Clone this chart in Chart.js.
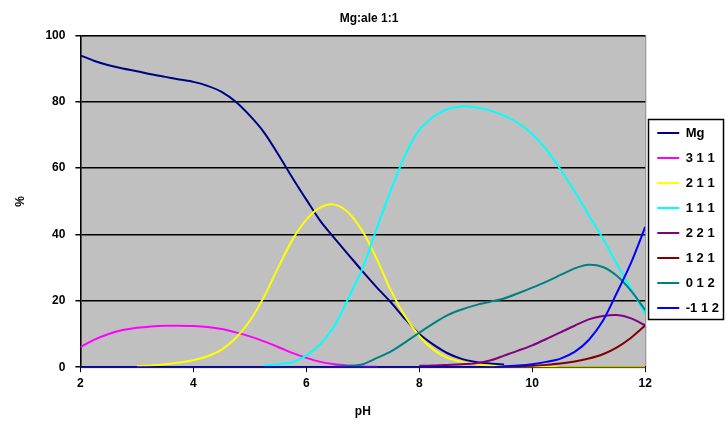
<!DOCTYPE html>
<html>
<head>
<meta charset="utf-8">
<script src="https://cdn.jsdelivr.net/npm/chart.js"></script>
<style>
  body { margin: 0; background: #fff; }
  #wrap { width: 727px; height: 435px; }
</style>
</head>
<body>
<div id="wrap"><canvas id="c" width="727" height="435"></canvas></div>
<script>
const pH = [2, 2.25, 2.5, 2.75, 3, 3.25, 3.5, 3.75, 4, 4.25, 4.5, 4.75, 5, 5.25, 5.5, 5.75, 6, 6.25, 6.5, 6.75,
  7, 7.25, 7.5, 7.75, 8, 8.25, 8.5, 8.75, 9, 9.25, 9.5, 9.75, 10, 10.25, 10.5, 10.75, 11, 11.25, 11.5, 11.75, 12];

const seriesNames = ['Mg', '3 1 1', '2 1 1', '1 1 1', '2 2 1', '1 2 1', '0 1 2', '-1 1 2'];
const seriesColors = ['#000080', '#ff00ff', '#ffff00', '#00ffff', '#800080', '#800000', '#008080', '#0000ff'];

const mg = [94, 92.3, 91, 90, 89.2, 88.3, 87.5, 86.7, 86, 84.8, 83, 80, 75.8, 70.8, 64.2, 57.2, 50.5, 44, 38.8, 33.8,
  28.8, 24, 19.5, 14.5, 10, 6.8, 4.2, 2.5, 1.6, 1.1, 0.8, null, null, null, null, null, null, null, null, null, null];
const s311 = [6.1, 8.3, 10, 11.2, 11.9, 12.3, 12.5, 12.5, 12.4, 12.1, 11.5, 10.5, 9.3, 7.8, 6.1, 4.3, 2.8, 1.6, 0.9, 0.5,
  0.2, 0.1, null, null, null, null, null, null, null, null, null, null, null, null, null, null, null, null, null, null, null];
const s211 = [null, null, null, null, 0.3, 0.5, 0.9, 1.4, 2.1, 3.3, 5.3, 8.8, 14, 21.2, 30, 38.3, 44.5, 48.2, 49, 46.5,
  40.8, 32.5, 23, 15.3, 9.4, 5.3, 2.8, 1.6, 0.9, 0.5, 0.3, 0.2, 0.1, 0.1, 0, 0, 0, 0, 0, 0, 0];
const s111 = [null, null, null, null, null, null, null, null, null, null, null, null, null, 0.5, 0.9, 1.5, 3.5, 7, 12.5, 21,
  30, 42, 53.5, 64, 71.5, 75.5, 77.8, 78.6, 78.3, 77.4, 75.8, 73.6, 70.3, 65.6, 59.6, 53, 45.8, 38.8, 31, 23.5, 16.2];
const s221 = [null, null, null, null, null, null, null, null, null, null, null, null, null, null, null, null, null, null, null, null,
  null, null, null, null, 0.4, 0.5, 0.7, 0.9, 1.2, 2, 3.5, 5, 6.6, 8.5, 10.5, 12.5, 14.4, 15.4, 15.7, 14.7, 12.6];
const s121 = [null, null, null, null, null, null, null, null, null, null, null, null, null, null, null, null, null, null, null, null,
  null, null, null, null, null, null, null, null, null, null, 0.1, 0.2, 0.4, 0.7, 1.1, 1.7, 2.6, 3.9, 6, 8.9, 12.6];
const s012 = [null, null, null, null, null, null, null, null, null, null, null, null, null, null, null, null, null, null, 0.2, 0.4,
  0.9, 2.8, 4.8, 7.5, 10.4, 13.2, 15.7, 17.4, 18.7, 19.7, 20.7, 22.3, 24, 25.8, 27.8, 29.8, 30.9, 30.2, 27.5, 23, 17.2];
const sm112 = [0, 0, 0, 0, 0, 0, 0, 0, 0, 0, 0, 0, 0, 0, 0, 0, 0, 0, 0, 0,
  0, 0, 0, 0, 0, 0, 0, 0, 0, 0, 0.3, 0.5, 0.9, 1.6, 2.6, 4.6, 8.2, 14, 22.5, 31.5, 42.3];

const allSeries = [mg, s311, s211, s111, s221, s121, s012, sm112];

const plotBg = {
  id: 'plotBg',
  afterLayout(chart) {
    // nudge the legend down a little, like the original
    chart.legend.top += 9;
    chart.legend.bottom += 9;
  },
  beforeDraw(chart) {
    const { ctx, chartArea: a } = chart;
    ctx.save();
    ctx.fillStyle = '#c0c0c0';
    ctx.fillRect(a.left, a.top, a.right - a.left, a.bottom - a.top);
    ctx.strokeStyle = '#808080';
    ctx.lineWidth = 1;
    ctx.strokeRect(a.left + 0.5, a.top + 0.5, a.right - a.left, a.bottom - a.top);
    ctx.restore();
  },
  afterDraw(chart) {
    const boxes = chart.legend.legendHitBoxes;
    if (!boxes || !boxes.length) return;
    let l = Infinity, t = Infinity, r = -Infinity, b = -Infinity;
    boxes.forEach(h => {
      l = Math.min(l, h.left); t = Math.min(t, h.top);
      r = Math.max(r, h.left + h.width); b = Math.max(b, h.top + h.height);
    });
    const ctx = chart.ctx;
    const bl = chart.chartArea.right + 3;
    ctx.save();
    ctx.strokeStyle = '#000';
    ctx.lineWidth = 1.5;
    ctx.strokeRect(Math.round(bl) + 0.5, Math.round(t - 8) + 0.5, 723 - Math.round(bl), Math.round(b - t + 12));
    ctx.restore();
  }
};

new Chart(document.getElementById('c'), {
  type: 'line',
  data: {
    datasets: seriesNames.map((name, i) => ({
      label: name,
      data: pH.map((x, j) => ({ x: x, y: allSeries[i][j] })),
      borderColor: seriesColors[i],
      backgroundColor: seriesColors[i],
      borderWidth: 2,
      pointRadius: 0,
      tension: 0.3,
      order: seriesNames.length - i
    }))
  },
  options: {
    responsive: false,
    animation: false,
    layout: { padding: { left: 9, right: -2, top: 0, bottom: 12 } },
    plugins: {
      title: {
        display: true,
        text: 'Mg:ale 1:1',
        color: '#000',
        font: { family: 'Liberation Sans', size: 12, weight: 'bold' },
        padding: { top: 11, bottom: 10 }
      },
      legend: {
        position: 'right',
        reverse: true,
        labels: {
          color: '#000',
          font: { family: 'Liberation Sans', size: 13, weight: 'bold' },
          usePointStyle: true,
          pointStyle: 'line',
          pointStyleWidth: 22,
          boxHeight: 12,
          padding: 12
        }
      },
      tooltip: { enabled: false }
    },
    scales: {
      x: {
        type: 'linear',
        min: 2,
        max: 12,
        ticks: {
          stepSize: 2,
          color: '#000',
          font: { family: 'Liberation Sans', size: 12, weight: 'bold' },
          padding: 4
        },
        grid: { drawOnChartArea: false, color: '#000', tickLength: 5 },
        border: { color: '#000', width: 1.5 },
        title: {
          display: true,
          text: 'pH',
          color: '#000',
          font: { family: 'Liberation Sans', size: 12, weight: 'bold' },
          padding: { top: 10 }
        }
      },
      y: {
        min: 0,
        max: 100,
        ticks: {
          stepSize: 20,
          color: '#000',
          font: { family: 'Liberation Sans', size: 12, weight: 'bold' },
          padding: 10
        },
        grid: { color: '#000', lineWidth: 1.5, tickLength: 5 },
        border: { color: '#000', width: 1.5 },
        title: {
          display: true,
          text: '%',
          color: '#000',
          font: { family: 'Liberation Sans', size: 12, weight: 'bold' },
          padding: { top: 4, bottom: 8 }
        }
      }
    }
  },
  plugins: [plotBg]
});
</script>
</body>
</html>
